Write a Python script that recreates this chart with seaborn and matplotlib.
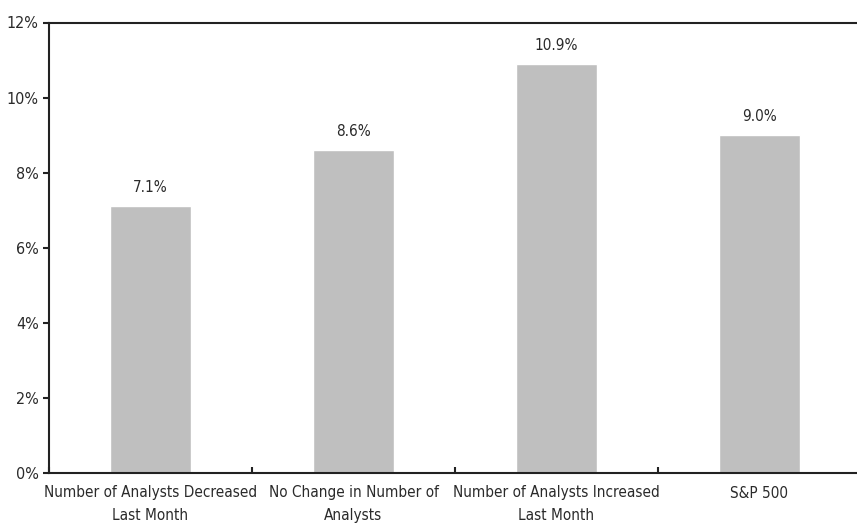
import pandas as pd
import matplotlib.pyplot as plt
import seaborn as sns
from matplotlib.ticker import FixedLocator, FuncFormatter

# --- data ---
categories = ["Number of Analysts Decreased\nLast Month",
              "No Change in Number of\nAnalysts",
              "Number of Analysts Increased\nLast Month",
              "S&P 500"]
returns = [7.1, 8.6, 10.9, 9.0]
value_labels = ["7.1%", "8.6%", "10.9%", "9.0%"]

df = pd.DataFrame({"Category": categories, "Return": returns})

sns.set_style("white")
plt.rcParams['font.family'] = ['DejaVu Sans']
plt.rcParams['font.stretch'] = 'condensed'

fig = plt.figure(figsize=(8.57, 5.25), dpi=100)
ax = fig.add_axes([49 / 857, 52 / 525, 812 / 857, 450.5 / 525])

sns.barplot(data=df, x="Category", y="Return", color="#bfbfbf",
            width=0.4, saturation=1, ax=ax)

for i, (v, lab) in enumerate(zip(returns, value_labels)):
    ax.annotate(lab, (i, v), xytext=(0, 8), textcoords="offset points",
                ha="center", va="bottom", fontsize=11, color="#2a2a2a")

ax.set_ylim(0, 12)
ax.set_xlim(-0.5, 3.5)
ax.set_yticks(range(0, 13, 2))
ax.yaxis.set_major_formatter(FuncFormatter(lambda y, _: f"{y:.0f}%"))
ax.set_xlabel("")
ax.set_ylabel("")

ax.xaxis.set_minor_locator(FixedLocator([-0.5, 0.5, 1.5, 2.5, 3.5]))
ax.tick_params(axis="x", which="major", length=0, labelsize=11, pad=9,
               labelcolor="#2a2a2a")
ax.tick_params(axis="x", which="minor", direction="in", length=4,
               width=1.5, color="#222222", bottom=True)
ax.tick_params(axis="y", direction="out", length=4, width=1.5,
               color="#222222", labelsize=11.5, labelcolor="#2a2a2a", left=True)
for t in ax.get_xticklabels():
    t.set_linespacing(1.6)

for side in ["left", "bottom", "top"]:
    ax.spines[side].set_visible(True)
    ax.spines[side].set_color("#222222")
    ax.spines[side].set_linewidth(1.5)
ax.spines["right"].set_visible(False)
ax.grid(False)

fig.savefig("out.png", dpi=100)
